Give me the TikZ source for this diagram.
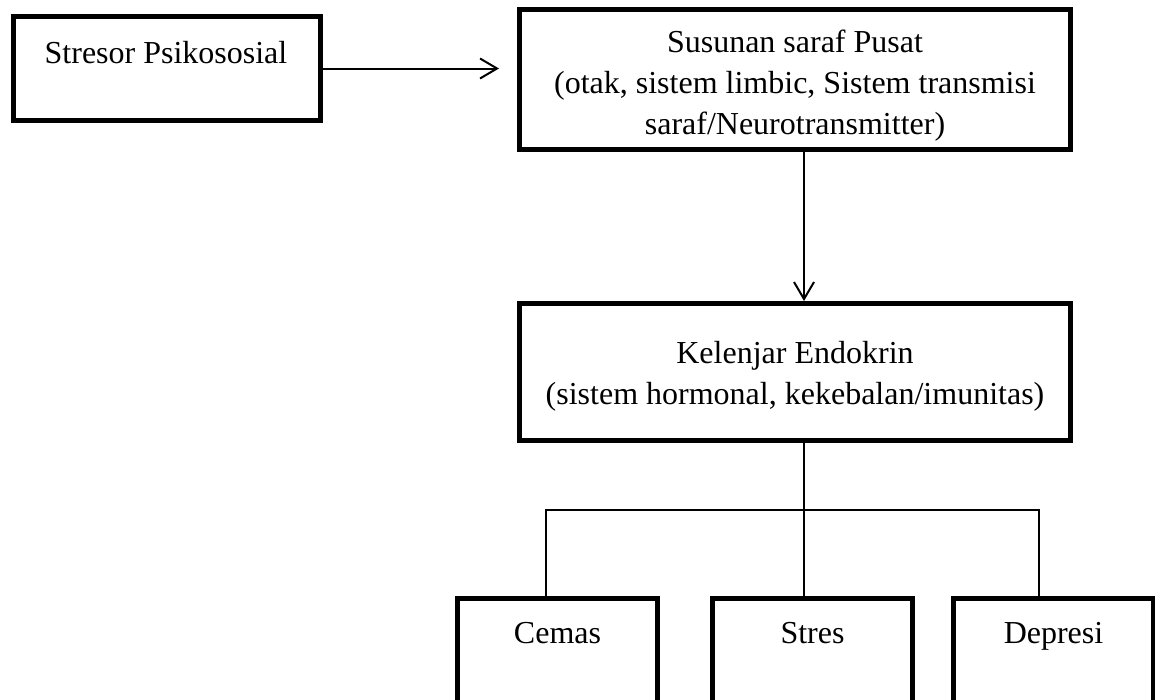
\documentclass[tikz,border=0pt]{standalone}
\usepackage{fontspec}
\setmainfont{Liberation Serif}
\usetikzlibrary{arrows.meta}

\tikzset{
  kotak/.style={draw, line width=5pt, inner sep=0pt},
  teks/.style={inner sep=0pt, align=center, font=\fontsize{32}{41}\selectfont},
  panah/.style={line width=2pt, -{Straight Barb[length=17pt,width=20pt]}},
  garis/.style={line width=1.8pt}
}

\begin{document}
\begin{tikzpicture}[x=1pt,y=-1pt]
\useasboundingbox (0,0) rectangle (1155,699);
\clip (0,0) rectangle (1155,699);

% definitions
\node[kotak, minimum width=307pt, minimum height=104pt] (Stresor) at (167,68.5) {};
\node[kotak, minimum width=551pt, minimum height=140pt] (Pusat) at (795,79.5) {};
\node[kotak, minimum width=551pt, minimum height=137pt] (Endokrin) at (795,372) {};
\node[kotak, minimum width=200pt, minimum height=130pt] (Cemas) at (557.5,663.5) {};
\node[kotak, minimum width=200pt, minimum height=130pt] (Stres) at (812.5,663.5) {};
\node[kotak, minimum width=200pt, minimum height=130pt] (Depresi) at (1053.5,663.5) {};

% labels
\node[teks, anchor=base] (tStresor) at (166,63) {Stresor Psikososial};
\node[teks, anchor=north] (tPusat) at (795,30) {Susunan saraf Pusat\\(otak, sistem limbic, Sistem transmisi\\saraf/Neurotransmitter)};
\node[teks, anchor=north] (tEndokrin) at (795,341) {Kelenjar Endokrin\\(sistem hormonal, kekebalan/imunitas)};
\node[teks, anchor=base] (tCemas) at (557.5,643) {Cemas};
\node[teks, anchor=base] (tStres) at (812.5,643) {Stres};
\node[teks, anchor=base] (tDepresi) at (1053.5,643) {Depresi};

% drawing
\draw[panah, shorten >=18pt] (Stresor.east) -- (Pusat.west |- Stresor.east);
\draw[panah] ([xshift=9pt]Pusat.south) -- ([xshift=9pt]Endokrin.north);
\draw[garis] ([xshift=9pt]Endokrin.south) -- ([xshift=9pt]Endokrin.south |- Stres.north);
\draw[garis] ([xshift=-11.5pt]Cemas.north) -- ++(0,-86) -| ([xshift=-14.5pt]Depresi.north);
\end{tikzpicture}
\end{document}
